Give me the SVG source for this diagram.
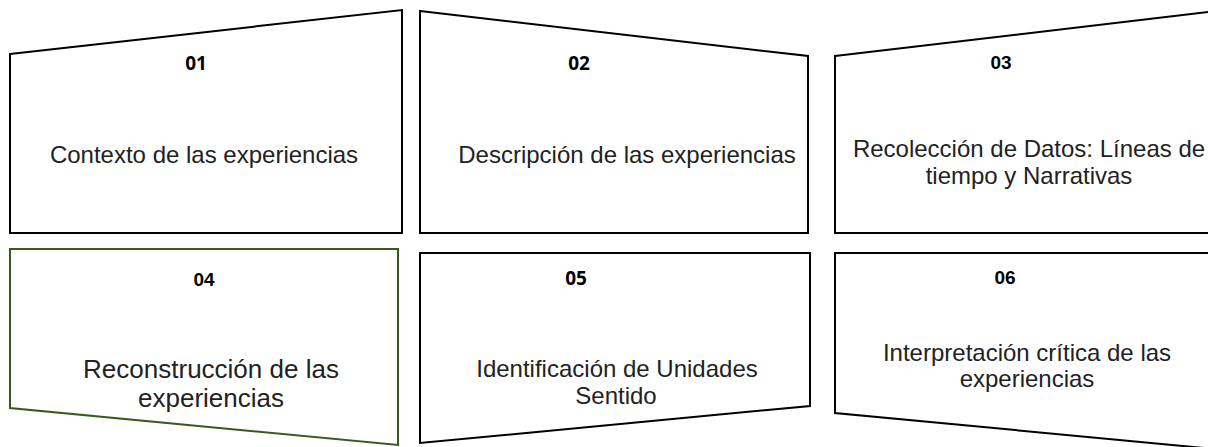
<svg xmlns="http://www.w3.org/2000/svg" width="1208" height="447" viewBox="0 0 1208 447">
<style>
.box{fill:#fff;stroke:#000;stroke-width:2;stroke-linejoin:miter}
.green{stroke:#3a5a1c}
.num{font-family:"Liberation Sans",Arial,sans-serif;font-weight:bold;font-size:19px;fill:#000;text-anchor:middle}
.num2{font-family:"Open Sans","Liberation Sans",sans-serif;font-weight:bold;font-size:19px;fill:#000;text-anchor:middle}
.lbl{font-family:"Liberation Sans",Arial,sans-serif;font-size:24px;fill:#222;text-anchor:middle}
.lbl4{font-family:"Liberation Sans",Arial,sans-serif;font-size:26px;fill:#222;text-anchor:middle}
</style>
<rect width="1208" height="447" fill="#fff"/>
<g id="node01">
<polygon class="box" points="10,54 402,10 402,233 10,233"/>
<text class="num2" x="196" y="70">01</text>
<text class="lbl" x="204" y="163">Contexto de las experiencias</text>
</g>
<g id="node02">
<polygon class="box" points="420,11 808,56 808,233 420,233"/>
<text class="num2" x="579" y="70">02</text>
<text class="lbl" x="627" y="163">Descripción de las experiencias</text>
</g>
<g id="node03">
<polygon class="box" points="835,56 1225,10 1225,233 835,233"/>
<text class="num" x="1001" y="69">03</text>
<text class="lbl" x="1029" y="157">Recolección de Datos: Líneas de</text>
<text class="lbl" x="1029" y="184">tiempo y Narrativas</text>
</g>
<g id="node04">
<polygon class="box green" points="10,249 398,249 398,445 10,408"/>
<text class="num" x="204" y="286">04</text>
<text class="lbl4" x="211" y="378">Reconstrucción de las</text>
<text class="lbl4" x="211" y="407">experiencias</text>
</g>
<g id="node05">
<polygon class="box" points="420,253 810,253 810,406 420,443"/>
<text class="num2" x="576" y="285">05</text>
<text class="lbl" x="617" y="377">Identificación de Unidades</text>
<text class="lbl" x="616" y="404">Sentido</text>
</g>
<g id="node06">
<polygon class="box" points="835,253 1225,253 1225,450 835,413"/>
<text class="num" x="1005" y="284">06</text>
<text class="lbl" x="1027" y="361">Interpretación crítica de las</text>
<text class="lbl" x="1027" y="387">experiencias</text>
</g>
<g id="connectors"/>
</svg>
